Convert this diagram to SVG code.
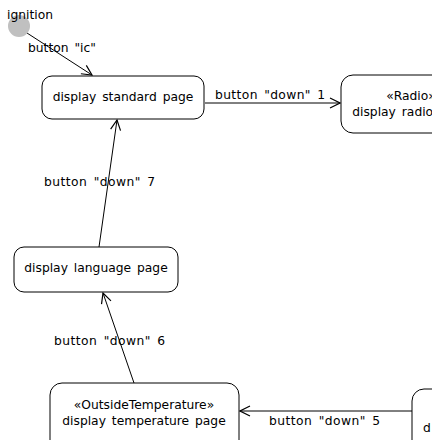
<svg xmlns="http://www.w3.org/2000/svg" width="432" height="440" viewBox="0 0 432 440">
<style>
text{font-family:"DejaVu Sans","Liberation Sans",sans-serif;font-size:12.3px;fill:#000;word-spacing:2px}
.n{fill:#fff;stroke:#000;stroke-width:1}
.c{stroke:#000;stroke-width:1;fill:none}
.m{text-anchor:middle}
</style>
<defs>
<marker id="a" viewBox="0 0 12 12" refX="11" refY="6" markerWidth="12" markerHeight="12" markerUnits="userSpaceOnUse" orient="auto">
<path d="M1,1 L11,6 L1,11" fill="none" stroke="#000" stroke-width="1.2"/>
</marker>
</defs>
<rect width="432" height="440" fill="#fff"/>
<g id="connectors">
<line class="c" x1="27" y1="33" x2="92" y2="75" marker-end="url(#a)"/>
<text x="28" y="52">button "ic"</text>
<line class="c" x1="205" y1="103" x2="340" y2="103" marker-end="url(#a)"/>
<text x="215" y="99" textLength="110">button "down" 1</text>
<line class="c" x1="99" y1="247" x2="117" y2="120" marker-end="url(#a)"/>
<text x="44" y="186" textLength="111">button "down" 7</text>
<line class="c" x1="134" y1="383" x2="103" y2="293" marker-end="url(#a)"/>
<text x="54" y="345" textLength="111">button "down" 6</text>
<line class="c" x1="412" y1="411" x2="240" y2="411" marker-end="url(#a)"/>
<text x="269" y="425" textLength="111">button "down" 5</text>
</g>
<g id="ignition">
<circle cx="19" cy="26" r="11" fill="#c0c0c0"/>
<text x="7" y="19">ignition</text>
</g>
<g id="standard">
<rect class="n" x="42" y="76" width="162" height="43" rx="10"/>
<text class="m" x="123" y="101">display standard page</text>
</g>
<g id="radio">
<rect class="n" x="341" y="75" width="160" height="58" rx="12" stroke="#ff4040"/>
<text class="m" x="411" y="100">«Radio»</text>
<text class="m" x="411" y="116">display radio page</text>
</g>
<g id="language">
<rect class="n" x="14" y="247" width="164" height="45" rx="10"/>
<text class="m" x="96" y="272">display language page</text>
</g>
<g id="temperature">
<rect class="n" x="50" y="383" width="189" height="70" rx="12" stroke="#4040ff"/>
<text class="m" x="144" y="409">«OutsideTemperature»</text>
<text class="m" x="144" y="425">display temperature page</text>
</g>
<g id="green">
<rect class="n" x="412" y="389" width="120" height="70" rx="12" stroke="#40ff40"/>
<text x="423" y="432">d</text>
</g>
</svg>
